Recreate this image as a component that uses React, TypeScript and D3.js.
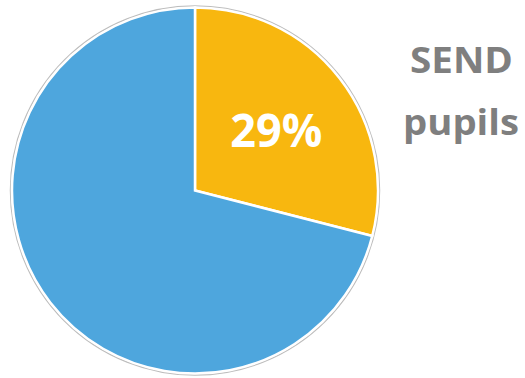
import React from "react";
import * as d3 from "d3";

const categories = ["SEND pupils", "Other pupils"];
const values = [29, 71];
const colors = ["#F8B70F", "#4EA6DD"];
const labelLines = ["SEND", "pupils"];

export default function App() {
  const width = 525;
  const height = 378;
  const cx = 195;
  const cy = 190.5;
  const r = 183;

  const pie = d3.pie<number>().sort(null).value((d) => d);
  const arcs = pie(values);
  const arc = d3.arc<d3.PieArcDatum<number>>().innerRadius(0).outerRadius(r);
  const c = arc.centroid(arcs[0]);
  const fmt = d3.format(".0%");

  return (
    <svg
      width={width}
      height={height}
      style={{ position: "absolute", left: 0, top: 0 }}
    >
      <rect width={width} height={height} fill="#fff" />
      <g transform={`translate(${cx},${cy})`}>
        <circle r={r + 1.5} fill="none" stroke="#bdbdbd" strokeWidth={1.5} />
        {arcs.map((a, i) => (
          <path
            key={categories[i]}
            d={arc(a) || ""}
            fill={colors[i]}
            stroke="#fff"
            strokeWidth={2.5}
            strokeLinejoin="miter"
          />
        ))}
        <text
          x={c[0] + 9}
          y={-43.5}
          fill="#fff"
          fontFamily="'Open Sans', sans-serif"
          fontWeight={700}
          fontSize={46}
          textAnchor="middle"
          textLength={92}
          lengthAdjust="spacingAndGlyphs"
        >
          {fmt(values[0] / d3.sum(values))}
        </text>
      </g>
      <text
        x={461.5}
        y={72.5}
        fill="#7F7F7F"
        fontFamily="'Open Sans', sans-serif"
        fontWeight={700}
        fontSize={35}
        textAnchor="middle"
        textLength={103}
        lengthAdjust="spacingAndGlyphs"
      >
        {labelLines[0]}
      </text>
      <text
        x={461}
        y={135}
        fill="#7F7F7F"
        fontFamily="'Open Sans', sans-serif"
        fontWeight={700}
        fontSize={35}
        textAnchor="middle"
        textLength={116}
        lengthAdjust="spacingAndGlyphs"
      >
        {labelLines[1]}
      </text>
    </svg>
  );
}
